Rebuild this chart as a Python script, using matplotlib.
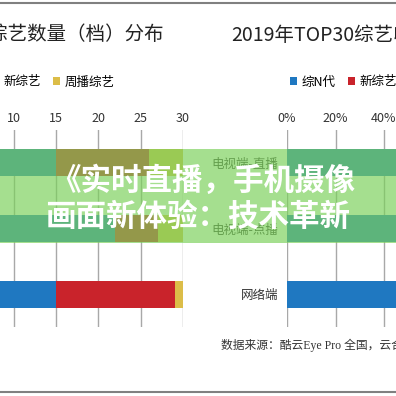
import matplotlib
matplotlib.use('Agg')
import matplotlib.pyplot as plt
from matplotlib.patches import Rectangle
from matplotlib.lines import Line2D

plt.rcParams['font.family'] = ['Noto Sans CJK SC', 'DejaVu Sans']

# dados
categorias = ['电视端-直播', '电视端-点播', '网络端']
series = ['综N代', '新综艺', '周播综艺']
cores = ['#1f78c1', '#c9232b', '#dcbd48']

# quantidade (档)
qtd_zn = [15, 22, 15]
qtd_novo = [11, 5, 14]
qtd_semanal = [4, 3, 1]

# participação (%)
pct_zn = [62, 58, 55]
pct_novo = [30, 34, 40]
pct_semanal = [8, 8, 5]

titulo_esq = '2019年TOP30综艺数量（档）分布'
titulo_dir = '2019年TOP30综艺收视分布'
fonte = '数据来源：酷云Eye Pro 全国，云合数据'
manchete = ['《实时直播，手机摄像', '画面新体验：技术革新']

W = 396.0
def fx(x):
    return x / W
def fy(y):
    return 1 - y / W

fig = plt.figure(figsize=(3.96, 3.96), dpi=100)

topo, base = 130, 327
escala_esq = 8.475
ax1 = fig.add_axes([fx(183 - 30 * escala_esq), fy(base), 30 * escala_esq / W, (base - topo) / W])
ax2 = fig.add_axes([fx(287), fy(base), 242.5 / W, (base - topo) / W])

def desenha(ax, a, b, c, xmax, ticks, labels):
    y = range(len(categorias))
    ax.barh(y, a, height=0.41, color=cores[0], label=series[0], zorder=3)
    left = a
    ax.barh(y, b, left=left, height=0.41, color=cores[1], label=series[1], zorder=3)
    left = [p + q for p, q in zip(a, b)]
    ax.barh(y, c, left=left, height=0.41, color=cores[2], label=series[2], zorder=3)
    ax.set_xlim(0, xmax)
    ax.set_ylim(2.5, -0.5)
    ax.xaxis.tick_top()
    ax.set_xticks(ticks)
    ax.set_xticklabels(labels, fontsize=9, color='#333333')
    ax.tick_params(axis='x', length=0, pad=3.5)
    ax.grid(axis='x', color='#a8a8a8', linewidth=1.0, zorder=0)
    for s in ax.spines.values():
        s.set_visible(False)

desenha(ax1, qtd_zn, qtd_novo, qtd_semanal, 30, list(range(0, 31, 5)),
        [str(v) for v in range(0, 31, 5)])
ax1.set_yticks([])

desenha(ax2, pct_zn, pct_novo, pct_semanal, 100, list(range(0, 101, 20)),
        ['%d%%' % v for v in range(0, 101, 20)])
ax2.set_yticks(range(len(categorias)))
ax2.set_yticklabels(categorias, fontsize=9, color='#333333')
ax2.tick_params(axis='y', length=0, pad=6)

# legendas
ax1.legend(loc='center left', bbox_to_anchor=(fx(-66), fy(82)), bbox_transform=fig.transFigure,
           ncol=3, frameon=False, fontsize=9, handlelength=0.55, handleheight=0.55,
           handletextpad=0.35, columnspacing=1.0, borderpad=0, borderaxespad=0)
ax2.legend(loc='center left', bbox_to_anchor=(fx(290), fy(82)), bbox_transform=fig.transFigure,
           ncol=3, frameon=False, fontsize=9, handlelength=0.55, handleheight=0.55,
           handletextpad=0.35, columnspacing=1.0, borderpad=0, borderaxespad=0)

# títulos
fig.text(fx(164), fy(35), titulo_esq, ha='right', va='center', fontsize=14, color='#222222')
fig.text(fx(231), fy(35), titulo_dir, ha='left', va='center', fontsize=14, color='#222222')

# fonte
fig.text(fx(221), fy(345), fonte, ha='left', va='center', fontsize=8.5, color='#333333',
         family=['Liberation Serif', 'Noto Sans CJK SC'])

# bordas
fig.add_artist(Line2D([0, 1], [fy(3), fy(3)], color='#808080', linewidth=1.5))
fig.add_artist(Line2D([0, 1], [fy(392), fy(392)], color='#808080', linewidth=1.5))

# faixa verde por cima
fig.add_artist(Rectangle((0, fy(243)), 1, (243 - 149) / W, facecolor=(123/255, 209/255, 90/255),
                         alpha=0.68, edgecolor='none', zorder=10))
fig.text(fx(203), fy(181), manchete[0], ha='center', va='center', fontsize=22, weight='bold',
         color='white', zorder=11)
fig.text(fx(198), fy(217), manchete[1], ha='center', va='center', fontsize=22, weight='bold',
         color='white', zorder=11)

fig.savefig('out.png', dpi=100)
